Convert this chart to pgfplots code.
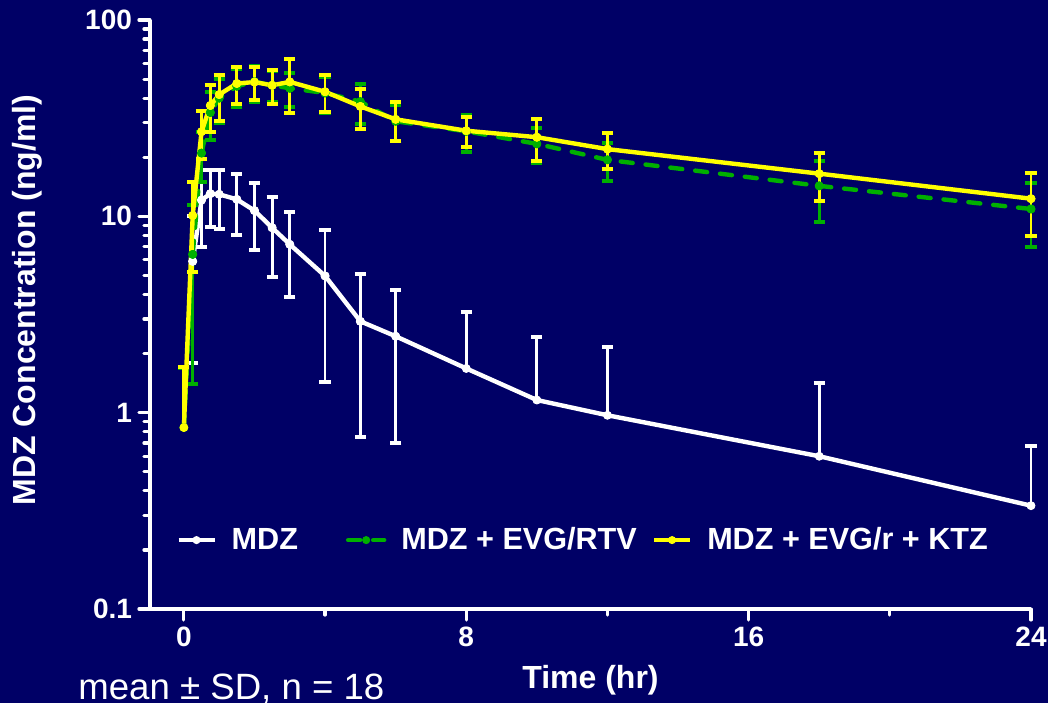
\documentclass[border=0pt]{standalone}
\usepackage{fontspec}
\setmainfont{Liberation Sans}
\usepackage{pgfplots}
\usepackage{pgfplotstable}
\pgfplotsset{compat=1.18}
\definecolor{bg}{RGB}{0,0,102}
\definecolor{grn}{RGB}{0,176,0}
\definecolor{yel}{RGB}{255,255,0}

\pgfplotstableread{
t m sd
0.25 5.9 4.1
0.5 12.1 5.1
0.75 13.05 4.25
1 12.95 4.35
1.5 12.2 4.2
2 10.7 4.0
2.5 8.75 3.85
3 7.2 3.3
4 4.97 3.53
5 2.92 2.17
6 2.45 1.75
8 1.68 1.59
10 1.16 1.28
12 0.97 1.2
18 0.60 0.81
24 0.336 0.337
}\mdz

\pgfplotstableread{
t m sd
0 0.84 0.85
0.25 6.4 5.0
0.5 21 6
0.75 33.8 9.2
1 40 10
1.5 46 10
2 48.5 10.1
2.5 46.5 8.2
3 44.9 8.8
4 42.5 9
5 38.4 8.9
6 30.5 6.3
8 27.1 5.9
10 23.4 4.8
12 19.4 4.3
18 14.3 4.9
24 10.9 3.9
}\evg

\pgfplotstableread{
t m sd
0 0.84 0.86
0.25 10.1 4.9
0.5 27 7.3
0.75 36.7 9.9
1 41.7 11
1.5 47.5 10.2
2 48.3 9.3
2.5 46.5 9
3 48.4 14.8
4 43.1 9.2
5 36.3 8.4
6 31.2 6.9
8 27.3 4.8
10 25.3 6.2
12 22 4.5
18 16.5 4.5
24 12.3 4.4
}\ktz

\pgfplotsset{
  errplus/.style={forget plot, #1, only marks, mark=none, error bars/.cd, y dir=plus, y explicit,
    error bar style={#1, line width=1.4pt},
    error mark options={#1, line width=2pt, mark size=2.8pt, rotate=90}},
  errminus/.style={forget plot, #1, only marks, mark=none, error bars/.cd, y dir=minus, y explicit,
    error bar style={#1, line width=1.4pt},
    error mark options={#1, line width=2pt, mark size=2.8pt, rotate=90}},
}

\begin{document}
\begin{tikzpicture}
\fill[bg] (-75pt,-47pt) rectangle (449pt,304.5pt);
\begin{axis}[
  at={(0pt,0pt)}, anchor=south west,
  width=440.5pt, height=294.5pt, scale only axis,
  ymode=log, ymin=0.1, ymax=100, xmin=-0.96, xmax=24,
  axis x line=bottom, axis y line=left,
  axis line style={white, line width=2pt, -},
  xtick={0,8,16,24}, xticklabels={0,8,16,24}, minor xtick={4,12,20},
  ytick={0.1,1,10,100}, yticklabels={0.1,1,10,100},
  minor ytick={0.2,0.3,0.4,0.5,0.6,0.7,0.8,0.9,2,3,4,5,6,7,8,9,20,30,40,50,60,70,80,90},
  tick align=outside, major tick length=5.5pt, minor tick length=3pt,
  tick style={white, line width=1.6pt, line cap=round},
  /pgf/number format/assume math mode=true,
  ticklabel style={white, font=\bfseries\fontsize{14}{16}\selectfont},
  xlabel={Time (hr)}, ylabel={MDZ Concentration (ng/ml)},
  label style={white, font=\bfseries\fontsize{16}{18}\selectfont},
  xlabel style={at={(axis description cs:0.5,-0.1205)}, anchor=center},
  ylabel style={at={(axis description cs:-0.1396,0.5246)}, anchor=center},
  clip=false,
  legend columns=3,
  legend style={at={(axis description cs:0.0294,0.117)}, anchor=west, draw=none, fill=none,
    text=white, font=\bfseries\fontsize{15.3}{18}\selectfont, inner sep=0pt,
    /tikz/every odd column/.append style={column sep=5.5pt},
    /tikz/column 2/.style={column sep=22pt},
    /tikz/column 4/.style={column sep=5.5pt}},
  legend image code/.code={\draw[#1, mark repeat=2, mark phase=2] plot coordinates {(0pt,0pt) (9pt,0pt) (18pt,0pt)};},
  line join=round,
]
% MDZ
\addplot[white, line width=2.2pt, mark=*, mark size=1.8pt, mark options={solid, draw=white, fill=white, line width=0.4pt}] table[x=t,y=m] {\mdz};
\addlegendentry{MDZ}
\addplot[errplus=white] table[x=t,y=m,y error=sd] {\mdz};
\addplot[restrict x to domain=0:6.5, errminus=white] table[x=t,y=m,y error=sd] {\mdz};
% EVG/RTV
\addplot[grn, line width=2.2pt, dash pattern=on 6pt off 6.5pt, line cap=round, mark=*, mark size=1.8pt, mark options={solid, draw=grn, fill=grn, line width=0.4pt}] table[x=t,y=m] {\evg};
\addlegendentry{MDZ + EVG/RTV}
\addplot[errplus=grn] table[x=t,y=m,y error=sd] {\evg};
\addplot[restrict x to domain=0.1:25, errminus=grn] table[x=t,y=m,y error=sd] {\evg};
% EVG/r + KTZ
\addplot[yel, line width=2.2pt, mark=*, mark size=1.8pt, mark options={solid, draw=yel, fill=yel, line width=0.4pt}] table[x=t,y=m] {\ktz};
\addlegendentry{MDZ + EVG/r + KTZ}
\addplot[errplus=yel] table[x=t,y=m,y error=sd] {\ktz};
\addplot[restrict x to domain=0.1:25, errminus=yel] table[x=t,y=m,y error=sd] {\ktz};
\end{axis}
\node[anchor=base west, inner sep=0pt, text=white, font=\fontsize{18.3}{20}\selectfont] at (-36pt,-45pt) {mean ± SD, n = 18};
\pgfresetboundingbox
\useasboundingbox (-75pt,-47pt) rectangle (449pt,304.5pt);
\end{tikzpicture}
\end{document}
